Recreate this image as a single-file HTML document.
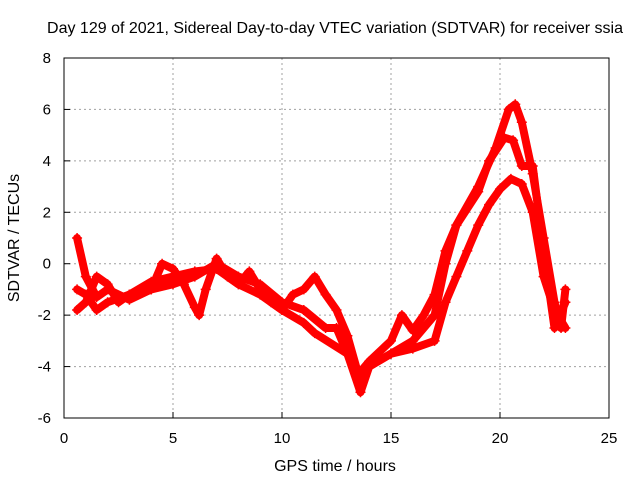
<!DOCTYPE html>
<html><head><meta charset="utf-8"><style>
body{margin:0;background:#fff;}
svg{display:block;font-family:"Liberation Sans",sans-serif;}
</style></head><body>
<svg id="chart" width="640" height="480">
<text x="335" y="33" text-anchor="middle" font-size="16">Day 129 of 2021, Sidereal Day-to-day VTEC variation (SDTVAR) for receiver ssia</text>
<text x="335" y="471" text-anchor="middle" font-size="16">GPS time / hours</text>
<text transform="translate(19,238) rotate(-90)" text-anchor="middle" font-size="16">SDTVAR / TECUs</text>
<g id="grid"></g><g id="series"></g>
<rect x="64" y="58" width="545" height="360" fill="none" stroke="#000" stroke-width="1"/>
<g id="ticks"></g>
</svg>
<script>
const xTicks=[0,5,10,15,20,25];
const yTicks=[-6,-4,-2,0,2,4,6,8];
const timesA=[0.6,1.0,1.5,2,3,4,5,6,7,8,9,10,11,12,12.5,13,13.6,14,15,16,17,17.5,18,19,19.8,20.4,20.7,21,21.5,22,22.5,22.8,23];
const valuesA=[1.0,-0.5,-1.3,-1,-1.4,-1,-0.8,-0.5,0,-0.5,-0.8,-1.5,-1.8,-2.5,-2.5,-3.5,-5,-4,-3.5,-3,-2,0,1.5,3,4.5,6,6.2,5.5,3.5,1,-1.5,-2.5,-1];
const timesB=[0.6,1,1.5,2,2.5,3,4,4.5,5,5.5,6,6.2,6.5,7,7.5,8,8.5,9,9.5,10,10.5,11,11.5,12,12.5,13,13.5,14,15,15.5,16,16.5,17,17.5,18,19,19.5,20.2,20.6,21,21.5,22,22.5,23];
const valuesB=[-1.8,-1.5,-0.5,-0.8,-1.5,-1.2,-1,0,-0.2,-0.8,-1.7,-2,-1,0.2,-0.5,-0.8,-0.3,-1,-1.5,-1.8,-1.2,-1,-0.5,-1.2,-1.8,-2.8,-4.3,-3.8,-3,-2,-2.6,-2,-1.2,0.5,1.5,2.8,4,4.9,4.8,3.8,3.8,0.5,-2.5,-1.5];
const timesC=[0.6,1,1.5,2,3,4,5,6,7,8,9,10,11,11.5,13,13.5,14,15,16,17,17.5,18,18.5,19,19.5,20,20.5,21,21.5,22,22.5,23];
const valuesC=[-1,-1.2,-1.8,-1.5,-1.2,-0.7,-0.5,-0.3,-0.2,-0.8,-1.2,-1.8,-2.3,-2.7,-3.5,-4.6,-4,-3.5,-3.3,-3,-1.5,-0.5,0.5,1.5,2.3,2.9,3.3,3.1,2,-0.5,-1.8,-2.5];
const NS='http://www.w3.org/2000/svg';
const X=t=>64+t*545/25, Y=v=>58+(8-v)*360/14;
const grid=document.getElementById('grid'),ticks=document.getElementById('ticks'),ser=document.getElementById('series');
function mk(tag,attrs,parent){const e=document.createElementNS(NS,tag);for(const k in attrs)e.setAttribute(k,attrs[k]);parent.appendChild(e);return e;}
xTicks.forEach(t=>{
 if(t>0&&t<25){const g=mk('line',{x1:X(t),x2:X(t),y1:58,y2:418,stroke:'#a0a0a0','stroke-dasharray':'2,3'},grid);
 
 }
 mk('line',{x1:X(t),x2:X(t),y1:418,y2:412,stroke:'#000'},ticks);
 const l=mk('text',{x:X(t),y:443,'text-anchor':'middle','font-size':'15'},ticks);l.textContent=t;
 
 
});
yTicks.forEach(v=>{
 if(v>-6&&v<8){const g=mk('line',{x1:64,x2:609,y1:Y(v),y2:Y(v),stroke:'#a0a0a0','stroke-dasharray':'2,3'},grid);
 
 }
 mk('line',{x1:64,x2:70,y1:Y(v),y2:Y(v),stroke:'#000'},ticks);
 const l=mk('text',{x:51,y:Y(v)+5,'text-anchor':'end','font-size':'15'},ticks);l.textContent=v;
 
 
});
[[timesA,valuesA,'series-a'],[timesB,valuesB,'series-b'],[timesC,valuesC,'series-c']].forEach(([ts,vs,nm])=>{
 const pts=ts.map((t,i)=>X(t)+','+Y(vs[i])).join(' ');
 const p=mk('polyline',{points:pts,fill:'none',stroke:'#f00','stroke-width':8,'stroke-linejoin':'round','stroke-linecap':'round'},ser);
 
 
 ts.forEach((t,i)=>{const x=X(t),y=Y(vs[i]);
  const m=mk('path',{d:`M${x-5},${y}h10M${x},${y-5}v10`,stroke:'#f00','stroke-width':1.5},ser);
  
  });
});
</script>
</body></html>
